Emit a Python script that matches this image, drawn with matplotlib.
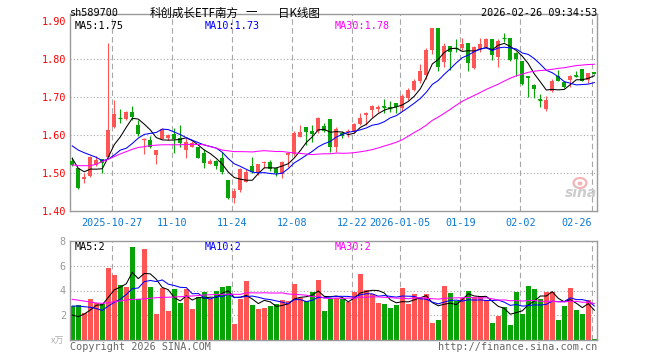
import matplotlib
matplotlib.use('Agg')
import matplotlib.pyplot as plt
from matplotlib.patches import Ellipse
import numpy as np
import pandas as pd

# ---------------- data ----------------
opens = [1.533, 1.513, 1.484, 1.494, 1.522, 1.537, 1.544, 1.623, 1.646, 1.642,
         1.662, 1.627, 1.587, 1.588, 1.548, 1.591, 1.592, 1.603, 1.593, 1.561,
         1.570, 1.568, 1.553, 1.525, 1.531, 1.539, 1.482, 1.436, 1.456, 1.478,
         1.518, 1.500, 1.527, 1.530, 1.515, 1.498, 1.549, 1.551, 1.595, 1.623,
         1.610, 1.610, 1.625, 1.643, 1.570, 1.605, 1.608, 1.610, 1.629, 1.654,
         1.667, 1.670, 1.676, 1.674, 1.684, 1.672, 1.698, 1.720, 1.743, 1.758,
         1.823, 1.882, 1.792, 1.834, 1.830, 1.829, 1.844, 1.776, 1.828, 1.832,
         1.853, 1.806, 1.857, 1.856, 1.817, 1.796, 1.755, 1.732, 1.695, 1.669,
         1.716, 1.757, 1.741, 1.746, 1.758, 1.775, 1.746, 1.766]
highs = [1.544, 1.513, 1.500, 1.546, 1.546, 1.537, 1.842, 1.693, 1.669, 1.663,
         1.677, 1.640, 1.594, 1.598, 1.561, 1.620, 1.604, 1.618, 1.627, 1.593,
         1.584, 1.570, 1.564, 1.538, 1.535, 1.557, 1.482, 1.460, 1.514, 1.510,
         1.544, 1.525, 1.533, 1.534, 1.517, 1.531, 1.556, 1.610, 1.627, 1.623,
         1.627, 1.649, 1.632, 1.643, 1.622, 1.612, 1.617, 1.632, 1.659, 1.660,
         1.680, 1.680, 1.695, 1.690, 1.684, 1.708, 1.724, 1.748, 1.788, 1.830,
         1.882, 1.882, 1.842, 1.835, 1.853, 1.855, 1.844, 1.835, 1.856, 1.856,
         1.853, 1.852, 1.868, 1.856, 1.820, 1.796, 1.755, 1.734, 1.709, 1.702,
         1.748, 1.772, 1.742, 1.759, 1.770, 1.775, 1.764, 1.767]
lows = [1.518, 1.459, 1.475, 1.491, 1.519, 1.500, 1.542, 1.619, 1.632, 1.640,
        1.640, 1.598, 1.551, 1.567, 1.525, 1.589, 1.587, 1.553, 1.570, 1.539,
        1.570, 1.539, 1.513, 1.525, 1.512, 1.499, 1.433, 1.423, 1.452, 1.476,
        1.501, 1.496, 1.515, 1.505, 1.494, 1.487, 1.517, 1.545, 1.595, 1.575,
        1.581, 1.605, 1.608, 1.557, 1.557, 1.594, 1.596, 1.605, 1.627, 1.627,
        1.649, 1.661, 1.658, 1.661, 1.658, 1.665, 1.694, 1.716, 1.738, 1.748,
        1.815, 1.770, 1.780, 1.772, 1.820, 1.825, 1.768, 1.774, 1.820, 1.830,
        1.798, 1.780, 1.845, 1.796, 1.757, 1.733, 1.700, 1.697, 1.675, 1.664,
        1.713, 1.743, 1.724, 1.727, 1.753, 1.744, 1.738, 1.760]
closes = [1.522, 1.462, 1.491, 1.544, 1.535, 1.528, 1.614, 1.656, 1.645, 1.662,
          1.647, 1.603, 1.589, 1.570, 1.561, 1.616, 1.600, 1.591, 1.579, 1.581,
          1.579, 1.541, 1.526, 1.532, 1.518, 1.504, 1.436, 1.454, 1.511, 1.504,
          1.503, 1.524, 1.530, 1.511, 1.502, 1.529, 1.554, 1.605, 1.608, 1.609,
          1.604, 1.645, 1.612, 1.570, 1.617, 1.598, 1.612, 1.630, 1.646, 1.658,
          1.677, 1.674, 1.675, 1.672, 1.674, 1.704, 1.720, 1.744, 1.769, 1.823,
          1.882, 1.780, 1.836, 1.818, 1.829, 1.840, 1.789, 1.833, 1.840, 1.853,
          1.810, 1.849, 1.856, 1.799, 1.801, 1.735, 1.751, 1.722, 1.694, 1.693,
          1.744, 1.744, 1.728, 1.757, 1.757, 1.744, 1.763, 1.762]
volumes = [2.75, 2.81, 2.22, 3.34, 2.97, 2.91, 5.80, 5.24, 4.44, 4.30,
           7.49, 3.29, 7.33, 4.28, 2.11, 4.22, 2.38, 4.14, 2.99, 4.12,
           2.54, 3.45, 3.88, 3.34, 3.98, 4.28, 4.36, 1.31, 3.34, 4.76,
           2.83, 2.51, 2.59, 2.75, 2.91, 3.24, 3.18, 4.52, 3.40, 3.16,
           3.88, 4.84, 2.35, 3.29, 3.42, 3.29, 3.10, 3.88, 5.32, 4.04,
           3.74, 2.99, 2.91, 2.59, 2.83, 4.20, 2.91, 3.72, 3.40, 3.72,
           1.39, 1.63, 4.36, 3.80, 3.16, 3.40, 3.96, 3.48, 3.56, 3.24,
           1.39, 1.95, 2.67, 1.23, 3.88, 2.11, 4.36, 4.12, 3.32, 3.88,
           3.88, 1.63, 2.75, 4.20, 2.43, 2.11, 3.24, 0.11]

# moving-average values at the start of the window (history before the first bar)
ma5_head = [1.539, 1.513, 1.504, 1.511]
ma10_head = [1.572, 1.561, 1.554, 1.548, 1.542, 1.533, 1.537, 1.548, 1.561]
ma30_head = [1.522, 1.520, 1.520, 1.520, 1.524, 1.531, 1.537, 1.544, 1.551, 1.557,
             1.563, 1.568, 1.570, 1.573, 1.574, 1.575, 1.575, 1.575, 1.575, 1.576,
             1.576, 1.576, 1.575, 1.570, 1.566, 1.561, 1.559, 1.557, 1.557]
vma5_head = [2.03, 1.90, 2.11, 2.43]
vma10_head = [2.75, 2.75, 2.70, 2.65, 2.55, 2.40, 2.75, 3.05, 3.30]
vma30_head = [3.29, 3.22, 3.15, 3.07, 3.00, 2.97, 3.02, 3.10, 3.16, 3.24,
              3.29, 3.30, 3.32, 3.38, 3.42, 3.45, 3.46, 3.48, 3.50, 3.53,
              3.56, 3.60, 3.64, 3.66, 3.68, 3.70, 3.70, 3.69, 3.69]

tick_labels = ['2025-10-27', '11-10', '11-24', '12-08', '12-22',
               '2026-01-05', '01-19', '02-02', '02-26']
tick_index = [7, 17, 27, 37, 47, 55, 65, 75, 87]
price_ticks = [1.40, 1.50, 1.60, 1.70, 1.80, 1.90]
price_grid = [1.50, 1.60, 1.70, 1.80]
vol_ticks = [2, 4, 6, 8]
vol_grid = [2, 4, 6]

title_parts = ['科创成长ETF南方', '一', '日K线图']
code_text = 'sh589700'
time_text = '2026-02-26 09:34:53'
ma_texts = ['MA5:1.75', 'MA10:1.73', 'MA30:1.78']
vma_texts = ['MA5:2', 'MA10:2', 'MA30:2']

# ---------------- styling ----------------
RED = '#ff5555'
GREEN = '#07a307'
GRID = '#a8a8a8'
FRAME = '#9a9a9a'
MONO = 'DejaVu Sans Mono'
CJK = ['Noto Sans CJK SC', 'DejaVu Sans']
W, H = 660, 360

def fx(px):
    return px / W

def fy(py):
    return 1 - py / H

def moving_avg(values, n, head):
    s = pd.Series(values, dtype=float).rolling(n).mean().values
    s[:len(head)] = head
    return s

opens_a = np.array(opens)
closes_a = np.array(closes)
x = np.arange(len(closes))
up = closes_a >= opens_a
colors = [RED if u else GREEN for u in up]

fig = plt.figure(figsize=(6.6, 3.6), dpi=100)
ax = fig.add_axes([fx(70), fy(211.3), fx(527), 197.3 / H])
axv = fig.add_axes([fx(70), fy(340.3), fx(527), 99.6 / H])

xmin, xmax = -0.38, 87.45
for a in (ax, axv):
    a.set_xlim(xmin, xmax)
    for sp in a.spines.values():
        sp.set_color(FRAME)
        sp.set_linewidth(1.0)
    a.tick_params(length=0)
    for t in tick_index:
        a.axvline(t - 1 / 3, color=GRID, lw=0.8, ls=(0, (5, 3)), zorder=0.5)

# ---- candles ----
bw = 0.68
ax.vlines(x, lows, highs, colors=colors, lw=0.8, zorder=2)
body_h = np.abs(closes_a - opens_a)
body_b = np.minimum(closes_a, opens_a)
ax.bar(x, body_h, bottom=body_b, width=bw, color=colors, linewidth=0, zorder=3)
doji = body_h < 0.0025
ax.hlines(np.where(doji, closes_a, np.nan), x - bw / 2, x + bw / 2,
          colors=colors, lw=0.9, zorder=3)

ax.plot(x, moving_avg(closes, 5, ma5_head), color='black', lw=0.75, zorder=4)
ax.plot(x, moving_avg(closes, 10, ma10_head), color='#0000ff', lw=0.75, zorder=4)
ax.plot(x, moving_avg(closes, 30, ma30_head), color='#ff00ff', lw=0.75, zorder=4)

ax.set_ylim(1.40, 1.919)
for g in price_grid:
    ax.axhline(g, color=GRID, lw=0.8, ls=(0, (1, 2)), zorder=0.5)
ax.set_yticks(price_ticks)
ax.set_yticklabels([f'{v:.2f}' for v in price_ticks], family=MONO,
                   fontsize=7.3, color='#ff0000')
ax.tick_params(axis='y', pad=3)
ax.set_xticks([t - 1 / 3 for t in tick_index])
xl = ax.set_xticklabels(tick_labels, family=MONO, fontsize=7.3, color='#0a78d2')
xl[-1].set_ha('right')
ax.tick_params(axis='x', pad=5)

# ---- volume ----
axv.bar(x, volumes, width=0.84, color=colors, linewidth=0, zorder=2)
axv.plot(x, moving_avg(volumes, 5, vma5_head), color='black', lw=0.75, zorder=4)
axv.plot(x, moving_avg(volumes, 10, vma10_head), color='#0000ff', lw=0.75, zorder=4)
axv.plot(x, moving_avg(volumes, 30, vma30_head), color='#ff00ff', lw=0.75, zorder=4)
axv.set_ylim(0, 8)
for g in vol_grid:
    axv.axhline(g, color=GRID, lw=0.8, ls=(0, (1, 2)), zorder=0.5)
axv.set_yticks(vol_ticks)
axv.set_yticklabels([str(v) for v in vol_ticks], family=MONO, fontsize=7.3,
                    color='#999999')
axv.tick_params(axis='y', pad=3)
axv.set_xticks([])

# ---- texts ----
fig.text(fx(70), fy(13.5), code_text, family=MONO, fontsize=7.3, va='center', ha='left')
fig.text(fx(150), fy(13), title_parts[0], family=CJK, fontsize=8.3, va='center', ha='left')
fig.text(fx(251.5), fy(13), title_parts[1], family=CJK, fontsize=8.3, va='center', ha='center')
fig.text(fx(298.5), fy(13), title_parts[2], family=CJK, fontsize=8.3, va='center', ha='center')
fig.text(fx(597), fy(13.5), time_text, family=MONO, fontsize=7.3, va='center', ha='right')

ma_cols = ['black', '#0000ff', '#ff00ff']
ma_x = [75, 205, 335]
for t, c, px in zip(ma_texts, ma_cols, ma_x):
    fig.text(fx(px), fy(26), t, family=MONO, fontsize=7.3, color=c, va='center', ha='left')
for t, c, px in zip(vma_texts, ma_cols, ma_x):
    fig.text(fx(px), fy(247), t, family=MONO, fontsize=7.3, color=c, va='center', ha='left')

fig.text(fx(64), fy(341), 'x万', family=CJK,
         fontsize=6.5, color='#b0b0b0', va='center', ha='right')
fig.text(fx(70), fy(347), 'Copyright 2026 SINA.COM', family=MONO, fontsize=7.3,
         color='#666666', va='center', ha='left')
fig.text(fx(597), fy(347), 'http://finance.sina.com.cn', family=MONO, fontsize=7.3,
         color='#666666', va='center', ha='right')

# sina watermark
fig.add_artist(Ellipse((fx(580), fy(183)), 13 / W, 10 / H, transform=fig.transFigure,
                       facecolor='none', edgecolor='#f3b4b4', lw=1.6))
fig.add_artist(Ellipse((fx(580), fy(183.5)), 5 / W, 4 / H, transform=fig.transFigure,
                       facecolor='#f3b4b4', edgecolor='none'))
fig.text(fx(597), fy(193), 'sina', fontsize=10, fontweight='bold', style='italic',
         color='#cccccc', va='center', ha='right')

fig.savefig('out.png', dpi=100, facecolor='white')
